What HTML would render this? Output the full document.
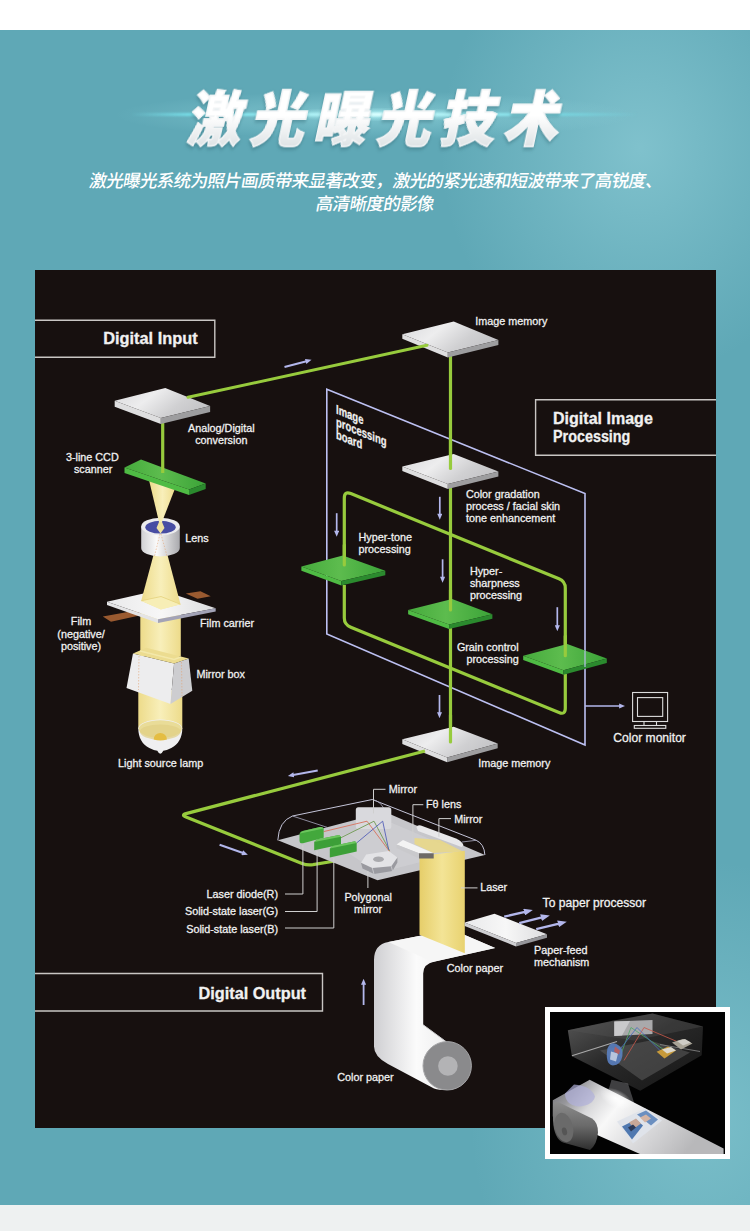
<!DOCTYPE html>
<html lang="zh-CN">
<head>
<meta charset="utf-8">
<title>激光曝光技术</title>
<style>
html,body{margin:0;padding:0;}
html{width:750px;height:1231px;overflow:hidden;}
body{width:750px;height:1231px;overflow:hidden;background:#f0f3f3;font-family:"Liberation Sans","Noto Sans CJK SC",sans-serif;position:relative;}
#page{position:absolute;left:0;top:0;width:750px;height:1231px;overflow:hidden;}
#top{position:absolute;left:0;top:0;width:750px;height:30px;background:#fff;}
#teal{position:absolute;left:0;top:30px;width:750px;height:1175px;background:#5fa8b6;overflow:hidden;}
#teal .glow1{position:absolute;left:0;top:0;width:750px;height:1175px;background:radial-gradient(ellipse 200px 230px at 640px 118px,rgba(140,203,213,.72),rgba(140,203,213,.35) 50%,rgba(140,203,213,0) 100%);}
#teal .glow2{position:absolute;left:0;top:0;width:750px;height:1175px;background:radial-gradient(ellipse 230px 260px at 700px 1090px,rgba(140,205,214,.6),rgba(140,205,214,0) 100%);}
#flare{position:absolute;left:110px;top:85px;width:530px;height:60px;background:radial-gradient(ellipse 260px 24px at 50% 50%,rgba(160,226,232,.5),rgba(160,226,232,0) 100%);}#flare i{position:absolute;left:20px;top:27.5px;width:510px;height:3px;background:linear-gradient(90deg,rgba(120,228,238,0),rgba(120,228,238,.9) 12%,rgba(150,238,245,.95) 30%,rgba(225,255,255,1) 48%,rgba(150,238,245,.9) 70%,rgba(120,228,238,.6) 85%,rgba(120,228,238,0));filter:blur(.8px);}#flare b{position:absolute;left:150px;top:19px;width:240px;height:21px;background:radial-gradient(ellipse 120px 7px at 50% 50%,rgba(215,255,255,.95),rgba(180,245,248,.5) 45%,rgba(180,245,248,0) 100%);}
#bottom{position:absolute;left:0;top:1205px;width:750px;height:26px;background:#eef1f1;}
h1{position:absolute;left:0;top:75.5px;width:750px;margin:0;text-align:center;white-space:nowrap;font-family:"Noto Sans CJK SC","Liberation Sans",sans-serif;font-weight:900;font-size:58.5px;line-height:80px;letter-spacing:9.6px;text-indent:13px;transform:skewX(-12deg) scaleX(.93);color:#fff;}h1 span{background:linear-gradient(#fff 0,#fff 50%,#dfe4e6 85%,#d0d7da 100%);-webkit-background-clip:text;background-clip:text;color:transparent;-webkit-text-fill-color:transparent;-webkit-text-stroke:1.4px #f3f5f6;paint-order:stroke fill;filter:drop-shadow(0 2px 2px rgba(30,80,92,.4));}
#sub{position:absolute;left:0;top:170px;width:750px;margin:0;text-align:center;font-family:"Liberation Sans","Noto Sans CJK SC",sans-serif;font-weight:500;font-size:17.5px;line-height:23px;letter-spacing:-.65px;text-indent:2px;color:#fff;transform:skewX(-10deg);}
#sub span{display:block;position:relative;}
#panel{position:absolute;left:35px;top:270px;width:681px;height:858px;background:#17100f;}
#inset{position:absolute;left:545px;top:1007px;width:185px;height:152px;background:#fff;overflow:hidden;}#inset svg{position:absolute;left:5px;top:4.5px;}
svg text{font-family:"Liberation Sans",sans-serif;fill:#f1f1f1;stroke:#f1f1f1;stroke-width:.28px;}
</style>
</head>
<body>
<div id="page">
<div id="top"></div>
<div id="teal"><div class="glow1"></div><div class="glow2"></div></div>
<div id="flare"><i></i><b></b></div>
<h1><span>激光曝光技术</span></h1>
<p id="sub"><span style="left:-2px">激光曝光系统为照片画质带来显著改变，激光的紧光速和短波带来了高锐度、</span><span style="left:1px">高清晰度的影像</span></p>
<div id="panel">
<svg id="dia" width="681" height="858" viewBox="35 270 681 858">
<!--P1-->
<defs>
<linearGradient id="gW" x1="0" y1=".2" x2="1" y2=".6"><stop offset="0" stop-color="#dcdcde"/><stop offset=".35" stop-color="#ededee"/><stop offset=".7" stop-color="#d0d0d2"/><stop offset="1" stop-color="#c2c2c5"/></linearGradient>
<linearGradient id="gG" x1="0" y1="0" x2="1" y2="0"><stop offset="0" stop-color="#45aa3c"/><stop offset=".45" stop-color="#5dbc4e"/><stop offset="1" stop-color="#3ba338"/></linearGradient>
<linearGradient id="gY" x1="0" y1="0" x2="1" y2="0"><stop offset="0" stop-color="#eddb8a"/><stop offset=".5" stop-color="#f8efba"/><stop offset="1" stop-color="#eddb8a"/></linearGradient>
<linearGradient id="gC" x1="0" y1="0" x2="1" y2="0"><stop offset="0" stop-color="#d0d0d3"/><stop offset=".4" stop-color="#fafafa"/><stop offset="1" stop-color="#a9a9ad"/></linearGradient>
<linearGradient id="gP" x1="0" y1="0" x2="1" y2="0"><stop offset="0" stop-color="#cfcfd2"/><stop offset=".35" stop-color="#fbfbfb"/><stop offset="1" stop-color="#d8d8da"/></linearGradient>
<linearGradient id="gL" x1="0" y1="0" x2="1" y2="0"><stop offset="0" stop-color="#e6ce6a"/><stop offset=".5" stop-color="#f3e496"/><stop offset="1" stop-color="#e8d270"/></linearGradient>
<marker id="ah" viewBox="0 0 7 6" refX="1" refY="3" markerWidth="6.5" markerHeight="5.2" markerUnits="userSpaceOnUse" orient="auto"><path d="M0 0L7 3L0 6z" fill="#b3b7ec"/></marker>
<marker id="ah2" viewBox="0 0 9 7" refX="1" refY="3.5" markerWidth="9" markerHeight="7" markerUnits="userSpaceOnUse" orient="auto"><path d="M0 0L9 3.5L0 7z" fill="#b3b7ec"/></marker>
<linearGradient id="gF" x1="0" y1="0" x2="1" y2="0"><stop offset="0" stop-color="#e9e9eb"/><stop offset=".5" stop-color="#f7f7f7"/><stop offset="1" stop-color="#dcdcde"/></linearGradient>
</defs>
<!-- title boxes -->
<g fill="none" stroke="#c9c6c4" stroke-width="1.4">
<path d="M35 320.3H214.8V357.3H35"/>
<path d="M716 399.8H535.6V455.2H716"/>
<path d="M35 973.5H322.5V1011H35"/>
</g>
<g font-weight="bold" font-size="16px">
<text x="103.2" y="344" textLength="94.5" lengthAdjust="spacingAndGlyphs">Digital Input</text>
<text x="553" y="424.2" textLength="99.8" lengthAdjust="spacingAndGlyphs">Digital Image</text>
<text x="553" y="442.4" textLength="77.4" lengthAdjust="spacingAndGlyphs">Processing</text>
<text x="198.5" y="998.5" textLength="107.5" lengthAdjust="spacingAndGlyphs">Digital Output</text>
</g>
<!-- scanner column -->
<g id="scanner">
<!-- lamp beam -->
<path d="M138.3 690V729H182.3V690z" fill="url(#gY)"/>
<path d="M138.3 728.5a22 9 0 0 1 44 0c0 9-4 16-11 19.5q-5 2.5-8 2.8q-1.5 3-3 3q-1.5 0-3-3q-3-.3-8-2.8c-7-3.5-11-10.5-11-19.5z" fill="#efeff0"/>
<ellipse cx="160.3" cy="729" rx="21.5" ry="8.8" fill="#e9dc98"/>
<path d="M140 731.5a20.3 7 0 0 1 40.6 0a20.3 8.5 0 0 1-40.6 0z" fill="#dfcf84" opacity=".7"/>
<path d="M153.7 739.5a6.6 6.6 0 0 1 13.2 0q-6.6 1.8-13.2 0z" fill="#e4bd42"/>
<!-- mirror box -->
<path d="M140.3 612H180.8V656H140.3z" fill="url(#gY)"/>
<path d="M133 653.6L126.5 687.9L170.5 704L174.1 663.5z" fill="#ededee"/>
<path d="M174.1 663.5L170.5 704L192.3 690.8L188.7 658.5z" fill="#cdcdd0"/>
<path d="M133 653.6L146.2 647.7L188.7 658.5L174.1 663.5z" fill="#ecdc90"/>
<path d="M140 651L174.1 659.5L181 657" fill="none" stroke="#f5ebb0" stroke-width="1.5" opacity=".8"/>
<path d="M139 656L138.5 690M181.5 662L182 696" stroke="#e0a070" stroke-width=".7" stroke-dasharray="1.5 1.5" fill="none" opacity=".8"/>
<!-- film strip -->
<path d="M102.8 616.4L135.9 610.5L141.8 614.9L111 621.7z" fill="#9a5a30"/>
<path d="M185.8 593.5L200.5 591.3L210.7 596.3L197.5 598.8z" fill="#9a5a30"/>
<!-- film carrier -->
<path d="M107 601.7L160 589.8L215.7 608.2L158 619.3z" fill="url(#gF)"/>
<path d="M107 601.7L158 619.3V623L107 605z" fill="#e4e4e6"/>
<path d="M158 619.3L215.7 608.2V611.6L158 623z" fill="#a3a3b6"/>
<!-- beam above carrier -->
<path d="M153.5 555L141.2 600.8L160.9 609.6L180.5 604.3L167.5 555z" fill="url(#gY)"/>
<path d="M141.2 600.8L161 596.5L180.5 604.3L160.9 609.6z" fill="#f7eeb6"/>
<path d="M141.2 600.8L161 596.5L180.5 604.3" fill="none" stroke="#e5d27c" stroke-width=".8"/>
<!-- lens -->
<path d="M141.2 526.5V548a19.3 8.5 0 0 0 38.6 0V526.5z" fill="url(#gC)"/>
<ellipse cx="160.5" cy="526.5" rx="19.3" ry="8.7" fill="#ebebed"/>
<ellipse cx="160.5" cy="527.2" rx="15.2" ry="6.4" fill="#474da3"/>
<path d="M149 480L159 522H162L176 486z" fill="url(#gY)"/>
<path d="M159 522L156.5 528L160.5 533.5L164.5 528L162 522z" fill="#efe2a0"/>
<path d="M160 534L154.5 556M161 534L167 556" stroke="#e0a070" stroke-width=".7" stroke-dasharray="1.5 1.5" fill="none" opacity=".8"/>
<!-- ccd plate -->
<path d="M124.5 467.5L141 459.5L205.7 483.5L189 489.5z" fill="url(#gG)"/>
<path d="M124.5 467.5L189 489.5V495L124.5 473z" fill="#4fbb44"/>
<path d="M189 489.5L205.7 483.5V489L189 495z" fill="#2b8a2e"/>
<!-- green up line -->
<path d="M162.7 421V473" stroke="#97cb3d" stroke-width="3.2" fill="none"/>
<!-- A/D plate -->
<path d="M114.7 400.7L165.3 388.1L210.1 406L160.8 418z" fill="url(#gW)"/>
<path d="M114.7 400.7L160.8 418V424L114.7 406.7z" fill="#dededf"/>
<path d="M160.8 418L210.1 406V412L160.8 424z" fill="#9d9d9f"/>
</g>
<g font-size="10.8px">
<text x="188" y="432">Analog/Digital</text>
<text x="195.2" y="443.8">conversion</text>
<text x="65.9" y="461.3">3-line CCD</text>
<text x="73.9" y="472.8">scanner</text>
<text x="185.3" y="542">Lens</text>
<text x="200" y="627.4">Film carrier</text>
<text x="81" y="625.4" text-anchor="middle">Film</text>
<text x="81" y="637.6" text-anchor="middle">(negative/</text>
<text x="81" y="649.6" text-anchor="middle">positive)</text>
<text x="196.4" y="678">Mirror box</text>
<text x="118" y="766.8">Light source lamp</text>
</g>
<!--/P1-->
<!--P2-->
<!-- arrow on long line -->
<path d="M284.5 367L306.5 361.2" stroke="#b3b7ec" stroke-width="2" fill="none" marker-end="url(#ah)"/>
<!-- board outline -->
<path d="M326.8 389.3L585 493.6V745L326.8 634z" fill="none" stroke="#bcc0f2" stroke-width="1.6"/>
<!-- green loop -->
<path d="M344.3 564V498q0-7 6.5-4.4L559 578.8q6.3 2.6 6.3 9.4V655" fill="none" stroke="#97cb3d" stroke-width="3.2"/>
<path d="M344.3 585V618q0 6.5 6.5 9.2L559 712.5q6.3 2.6 6.3-4.2V674" fill="none" stroke="#97cb3d" stroke-width="3.2"/>
<!-- centre vertical -->
<path d="M450.5 354V468M450.5 488V612M450.5 628V741" fill="none" stroke="#97cb3d" stroke-width="3.2"/>
<!-- top image memory -->
<path d="M402.3 334.2L453.7 321.4L498.4 340L447.8 352.5z" fill="url(#gW)"/>
<path d="M402.3 334.2L447.8 352.5V357.5L402.3 338.8z" fill="#dededf"/>
<path d="M447.8 352.5L498.4 340V345L447.8 357.5z" fill="#9d9d9f"/>
<path d="M188 397.3L427 345.3" stroke="#97cb3d" stroke-width="3" fill="none" stroke-linecap="round"/>
<!-- second white plate -->
<path d="M402.3 466.4L453.7 453.9L498.4 471.5L447.8 484z" fill="url(#gW)"/>
<path d="M402.3 466.4L447.8 484V489L402.3 471z" fill="#dededf"/>
<path d="M447.8 484L498.4 471.5V476.5L447.8 489z" fill="#9d9d9f"/>
<path d="M450.5 440V468.5" fill="none" stroke="#97cb3d" stroke-width="3.2" stroke-linecap="round"/>
<!-- hyper-tone plate -->
<path d="M301.4 566.4L342.8 555.4L385.3 570.8L341.3 581z" fill="url(#gG)"/>
<path d="M301.4 566.4L341.3 581V585.5L301.4 570.8z" fill="#4fbb44"/>
<path d="M341.3 581L385.3 570.8V575.3L341.3 585.5z" fill="#2b8a2e"/>
<path d="M344.3 545V565" fill="none" stroke="#97cb3d" stroke-width="3.2" stroke-linecap="round"/>
<!-- hyper-sharpness plate -->
<path d="M408.1 609.9L452.1 598.9L492.4 614.3L449.1 624.6z" fill="url(#gG)"/>
<path d="M408.1 609.9L449.1 624.6V629L408.1 614.3z" fill="#4fbb44"/>
<path d="M449.1 624.6L492.4 614.3V618.7L449.1 629z" fill="#2b8a2e"/>
<path d="M450.5 590V610" fill="none" stroke="#97cb3d" stroke-width="3.2" stroke-linecap="round"/>
<!-- grain control plate -->
<path d="M523.2 655.7L567.2 643.9L606.8 658.6L563.5 670.3z" fill="url(#gG)"/>
<path d="M523.2 655.7L563.5 670.3V674.7L523.2 660.1z" fill="#4fbb44"/>
<path d="M563.5 670.3L606.8 658.6V663L563.5 674.7z" fill="#2b8a2e"/>
<path d="M565.3 636V655.7" fill="none" stroke="#97cb3d" stroke-width="3.2" stroke-linecap="round"/>
<path d="M585 651V667" fill="none" stroke="#bcc0f2" stroke-width="1.6" opacity=".7"/>
<!-- lower image memory -->
<path d="M402.3 739.2L453.7 726.7L497.7 743.6L447.1 757.5z" fill="url(#gW)"/>
<path d="M402.3 739.2L447.1 757.5V762.2L402.3 743.9z" fill="#dededf"/>
<path d="M447.1 757.5L497.7 743.6V748.3L447.1 762.2z" fill="#9d9d9f"/>
<path d="M450.5 715V742" fill="none" stroke="#97cb3d" stroke-width="3.2" stroke-linecap="round"/>
<!-- arrows -->
<g stroke="#b3b7ec" stroke-width="1.7" fill="none">
<path d="M336.7 513.2V531.5" marker-end="url(#ah)"/>
<path d="M439.8 496.8V514.5" marker-end="url(#ah)"/>
<path d="M442.6 559.3V577.5" marker-end="url(#ah)"/>
<path d="M557.3 607.2V626" marker-end="url(#ah)"/>
<path d="M439.5 695V713" marker-end="url(#ah)"/>
<path d="M585 706H620" stroke-width="1.6" marker-end="url(#ah)"/>
</g>
<!-- monitor -->
<g fill="none" stroke="#dcdcdc" stroke-width="1.1">
<rect x="632.6" y="692.5" width="35" height="29"/>
<rect x="637.5" y="697.6" width="25.2" height="18.8"/>
<path d="M644 721.5V725.5M656.5 721.5V725.5"/>
<rect x="634.3" y="725.5" width="31.5" height="2.8"/>
</g>
<g font-size="10.8px">
<text x="475.3" y="325.2">Image memory</text>
<text x="465.9" y="498">Color gradation</text>
<text x="465.9" y="510">process / facial skin</text>
<text x="465.9" y="522">tone enhancement</text>
<text x="358.5" y="540.7">Hyper-tone</text>
<text x="358.5" y="552.7">processing</text>
<text x="469.9" y="574.8">Hyper-</text>
<text x="469.9" y="587.2">sharpness</text>
<text x="469.9" y="599.4">processing</text>
<text x="518.7" y="650.8" text-anchor="end">Grain control</text>
<text x="518.7" y="662.8" text-anchor="end">processing</text>
<text x="478.3" y="767">Image memory</text>
</g>
<text x="613.3" y="741.7" font-size="12.1px">Color monitor</text>
<g font-size="13px" font-weight="bold" transform="translate(336 0) skewY(22) scale(.73 1)">
<text x="0" y="413.5">Image</text>
<text x="0" y="426">processing</text>
<text x="0" y="438.5">board</text>
</g>
<!--/P2-->
<!--P3-->
<!-- green line to laser unit -->
<path d="M425 751L186 813.6q-5 1.4 0 3.4L302 863.5q5 2 11 1.2L335 861" fill="none" stroke="#97cb3d" stroke-width="3.2" stroke-linejoin="round"/>
<path d="M317.7 770.5L293 775" stroke="#b3b7ec" stroke-width="2" fill="none" marker-end="url(#ah)"/>
<path d="M219.6 844.7L243 853" stroke="#b3b7ec" stroke-width="2" fill="none" marker-end="url(#ah)"/>
<path d="M363.6 1005V984" stroke="#b3b7ec" stroke-width="1.8" fill="none" marker-end="url(#ah)"/>
<!-- paper: roll body + vertical band + top face -->
<path d="M374 1046.5V960q0-15.5 14.4-18L452 929.5L495.2 948L434.5 961.6q-11.3 2.4-11.3 12V1024.8L446 1041.6L447 1090q-8 0-13-1.6L388 1064q-14-7.5-14-17.5z" fill="url(#gP)"/>
<path d="M388.4 942L452 929.5L495.2 948L432.8 962z" fill="#f6f6f6"/>
<path d="M423.2 1024.8L446 1041.6" stroke="#c8c8ca" stroke-width="1" fill="none"/>
<circle cx="447.2" cy="1065.8" r="24.2" fill="#8a8a8c"/>
<circle cx="447.2" cy="1065.8" r="24.2" fill="none" stroke="#a5a5a7" stroke-width="1"/>
<circle cx="447.9" cy="1066" r="9.8" fill="#b3b3b5"/>
<!-- base plate of laser unit -->
<path d="M277.8 840.3L385 812L484.9 855L377.5 880.2z" fill="#c6c6ca"/>
<path d="M330 840L385 820L460 852L377.5 873z" fill="#d2d2d6" opacity=".6"/>
<!-- cover outline -->
<path d="M277.8 840.3q1-19 14.7-24.3L372.3 799.5L476.2 840.3q8 3.5 8.7 14.7" fill="none" stroke="#c4c4d8" stroke-width="1"/>
<path d="M292.5 816L327 827.3M372.3 799.5q10 2 12.7 12.5M476.2 840.3L462 842" fill="none" stroke="#a9a9c0" stroke-width=".8"/>
<!-- back mirror -->
<rect x="355.8" y="807.3" width="35.5" height="21.7" rx="2.5" fill="#d9d9dd"/>
<!-- beams -->
<g fill="none" stroke-width=".9">
<path d="M323.7 831.6L367 821.2L389.6 851.5" stroke="#d8705c"/>
<path d="M341 837.7L374 821.2L389.6 850.7" stroke="#6f9a52"/>
<path d="M356.7 842.9L382.7 821.2L388.7 849.8" stroke="#5560b8"/>
</g>
<!-- laser modules -->
<g>
<path d="M299.5 834.2q0-2.5 3-3.3L320 827q3.7-.5 3.7 2.5V837.7L303 843.2q-3.5.5-3.5-2.5z" fill="#43a83c"/>
<path d="M314.2 842L317 839.5L339 835L341 836.8V844.6L314.2 850.3z" fill="#3c9f38"/>
<path d="M329.8 848.6L332.5 846L355 841.2L356.7 842.9V851.5L329.8 857.6z" fill="#3c9f38"/>
<path d="M314.2 842L317 839.5L339 835L341 836.8zM329.8 848.6L332.5 846L355 841.2L356.7 842.9zM300 833.5q1-2 3-2.5L320 827q3-.4 3.6 1.5z" fill="#6cc65e"/>
</g>
<!-- polygonal mirror -->
<path d="M361 862.8L362.5 868.5L374 874L392.5 871L397.4 862.5V857.6z" fill="#9a9aa0"/>
<path d="M361 862.8L366.2 854.5L388.7 851L397.4 857.6L391.3 866.3L372.3 868z" fill="#e3e3e6"/>
<path d="M372.3 868L374 874M391.3 866.3L392.5 871" stroke="#d0d0d4" stroke-width=".8" fill="none"/>
<ellipse cx="378.5" cy="859.2" rx="5.4" ry="2.8" fill="#aaaaae"/>
<!-- yellow between lens and mirror -->
<path d="M414.5 838L440 840L463 851.5L433 853L414.5 844z" fill="#ecd97e" opacity=".8"/>
<!-- right mirror -->
<path d="M416.4 827q1-2.5 4.5-1.5L456 838.5q6.5 3 7.5 7L461.5 847L418 831z" fill="#e8e8ea"/>
<!-- laser sheet -->
<path d="M419.5 856L464.8 850.7V953.3L419.5 934.8z" fill="url(#gL)"/>
<!-- f-theta lens -->
<path d="M396.5 844.5L403 840L433.7 853.3L419 853.3z" fill="#f3f3f3"/>
<path d="M396.5 844.5L419 853.3V858.5L396.5 848z" fill="#c9c9cc"/>
<path d="M419 853.3H433.7V858.5H419z" fill="#6e6a66"/>
<!-- paper feed plate -->
<path d="M464.7 922.5L494.5 913.7L547 934.3L516 943z" fill="url(#gF)"/>
<path d="M464.7 922.5L516 943V946.5L464.7 926z" fill="#cfcfd2"/>
<path d="M516 943L547 934.3V937.8L516 946.5z" fill="#96969a"/>
<g stroke="#b3b7ec" stroke-width="2.4" fill="none">
<path d="M504.2 916.7L525 911.9" marker-end="url(#ah2)"/>
<path d="M519.2 923.1L542 917.4" marker-end="url(#ah2)"/>
<path d="M536.2 929.1L559 923.6" marker-end="url(#ah2)"/>
</g>
<!-- leaders -->
<g fill="none" stroke="#cfcfcf" stroke-width="1">
<path d="M385.5 789.3H373.5V813.4"/>
<path d="M423.3 804.7H412.9V843"/>
<path d="M451 818.6H438.9V836.8"/>
<path d="M461 887.9H477.5"/>
<path d="M367.9 871V888"/>
<path d="M285 894H302.9V845"/>
<path d="M285 911.5H317.1V851"/>
<path d="M285 928H333.8V858"/>
</g>
<g font-size="10.8px">
<text x="388.8" y="792.8">Mirror</text>
<text x="426" y="808">Fθ lens</text>
<text x="454.2" y="822.6">Mirror</text>
<text x="480.2" y="891.3">Laser</text>
<text x="368.1" y="901" text-anchor="middle">Polygonal</text>
<text x="368.1" y="912.8" text-anchor="middle">mirror</text>
<text x="278" y="897.5" text-anchor="end">Laser diode(R)</text>
<text x="278" y="915" text-anchor="end">Solid-state laser(G)</text>
<text x="278" y="932.5" text-anchor="end">Solid-state laser(B)</text>
<text x="534.1" y="954">Paper-feed</text>
<text x="534.1" y="965.8">mechanism</text>
<text x="446.7" y="972">Color paper</text>
<text x="337.3" y="1080.7">Color paper</text>
</g>
<text x="542.6" y="907" font-size="12.1px">To paper processor</text>
<!--/P3-->
</svg>
</div>
<div id="inset">
<svg width="175" height="142.500" viewBox="550 1011.500 175 142.500">
<defs>
<linearGradient id="iB" x1="0" y1="0" x2="1" y2="1"><stop offset="0" stop-color="#6e6e6e"/><stop offset=".45" stop-color="#333"/><stop offset="1" stop-color="#191919"/></linearGradient>
<linearGradient id="iP" x1="0" y1="0" x2="1" y2=".35"><stop offset="0" stop-color="#6e6e72"/><stop offset=".16" stop-color="#96969a"/><stop offset=".3" stop-color="#d8d8da"/><stop offset=".45" stop-color="#f8f8f8"/><stop offset=".7" stop-color="#dadadc"/><stop offset="1" stop-color="#b8b8ba"/></linearGradient>
<linearGradient id="iR" x1="0" y1="0" x2="0" y2="1"><stop offset="0" stop-color="#8c8c8c"/><stop offset=".5" stop-color="#6a6a6a"/><stop offset="1" stop-color="#2e2e2e"/></linearGradient>
<radialGradient id="iF" cx=".5" cy=".5" r=".5"><stop offset="0" stop-color="#fff" stop-opacity=".95"/><stop offset="1" stop-color="#fff" stop-opacity="0"/></radialGradient>
</defs>
<rect x="549" y="1011" width="177" height="144" fill="#020202"/>
<path d="M567.800 1029.800L614 1020L652.500 1013.100L703 1026L701.700 1054.700L640.200 1090.200L571.900 1055.700z" fill="url(#iB)" opacity=".8"/>
<path d="M567.800 1029.800L652.500 1013.100L703 1026L634 1040z" fill="#555" opacity=".35"/>
<path d="M600 1050L650 1040L690 1052L642 1080z" fill="#5c5c5c" opacity=".55"/>
<path d="M571.900 1055.200L617 1041" fill="none" stroke="#bdbdbd" stroke-width="1.200" opacity=".85"/>
<path d="M660 1044L700 1051" fill="none" stroke="#8a8a8a" stroke-width="1" opacity=".8"/>
<path d="M614.300 1021L652.500 1019.400V1033.500L614.300 1035.500z" fill="#a9a9ab"/>
<path d="M614.300 1021L630 1020.400L622 1035.100L614.300 1035.500z" fill="#c9c9cb"/>
<g fill="none" stroke-width=".9" opacity=".9">
<path d="M620 1056L631 1027L668 1052" stroke="#4fa86a"/>
<path d="M624 1060L644 1027L684 1044" stroke="#c8584a"/>
<path d="M616 1054L637 1027L660 1050" stroke="#4a6ec0"/>
</g>
<path d="M607.400 1048q3-7 9-4.500q7.500 3.500 6 12q-1.500 9-9.500 9.500q-8-1-5.500-17z" fill="#5a7fc0" opacity=".9"/>
<path d="M611 1051l7 2-2 8-6-2z" fill="#cfd8e8" opacity=".8"/>
<path d="M615 1046l5 4-1 4-5-3z" fill="#c6584e" opacity=".8"/>
<path d="M656.600 1051.300L668 1046L676 1050L664.500 1058z" fill="#c79a3a"/>
<path d="M672 1042L683 1038.500L692.500 1043L681 1049z" fill="#a8a396"/>
<path d="M662 1049L671 1046.500L676 1050L667 1053z" fill="#dcd8cc"/>
<path d="M677 1040.500L685 1038.500L691 1042L683 1045z" fill="#cfcdc6"/>
<path d="M611.500 1079.300L628 1083L635 1105L604 1105z" fill="#9a9aa0" opacity=".4"/>
<path d="M552.800 1099.800L589.700 1079.300L723.600 1148V1153.500H640L596 1134L552.800 1116z" fill="url(#iP)"/>
<path d="M574 1084q17 1 21 12q-2 9-17 10q-13-2-13-13z" fill="#b0b0da" opacity=".7"/>
<path d="M617 1121L645 1108L662 1120L633 1143z" fill="#dfe3ea"/>
<path d="M622 1126L636 1119L643 1125L632 1139z" fill="#4f78b0"/>
<path d="M637 1114l9-4 12 9-7 6z" fill="#6b8fc0"/>
<path d="M629 1122l7-4 5 5-7 5z" fill="#c8a898"/>
<path d="M640 1117l6-3 5 4-6 4z" fill="#d4b4a4"/>
<path d="M628 1127l5-3 3 3-5 4z" fill="#2c3a58"/>
<ellipse cx="616" cy="1098" rx="17" ry="9" fill="url(#iF)" transform="rotate(25 616 1098)"/>
<path d="M553 1106q0-6 6-4L592 1118q6 4 6 14q-1 12-8 17.500L563 1142q-9-4-10-22z" fill="url(#iR)"/>
<ellipse cx="564" cy="1127" rx="9" ry="15" fill="#6a6a6a" transform="rotate(-14 564 1127)"/>
<ellipse cx="564.500" cy="1131" rx="2.500" ry="4" fill="#555" transform="rotate(-14 564 1131)"/>
</svg>
</div>
<div id="bottom"></div>
</div>
</body>
</html>
